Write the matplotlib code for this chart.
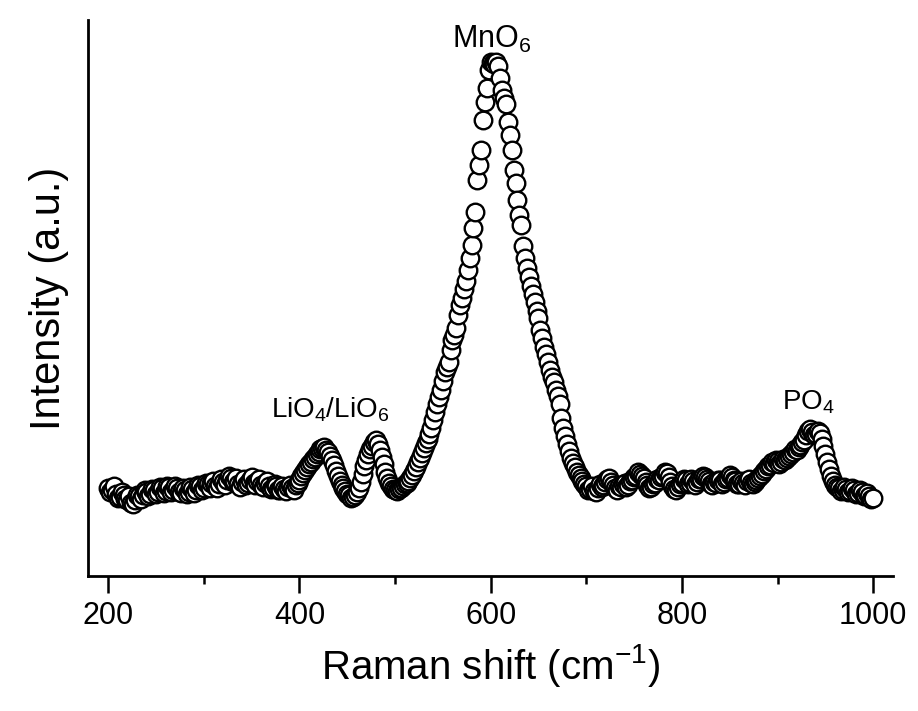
import matplotlib
matplotlib.use("Agg")
import matplotlib.pyplot as plt
from matplotlib.ticker import MultipleLocator

plt.rcParams['font.family'] = ['Liberation Sans', 'DejaVu Sans']
plt.rcParams['mathtext.default'] = 'regular'

# Raman shift (cm-1) sampling points
shift = [
    200, 202, 204, 206, 208, 210, 212, 214, 216, 218, 220, 222, 224, 226, 228, 230, 232, 234, 236, 238,
    240, 242, 244, 246, 248, 250, 252, 254, 256, 258, 260, 262, 264, 266, 268, 270, 272, 274, 276, 278,
    280, 282, 284, 286, 288, 290, 292, 294, 296, 298, 300, 302, 304, 306, 308, 310, 312, 314, 316, 318,
    320, 322, 324, 326, 328, 330, 332, 334, 336, 338, 340, 342, 344, 346, 348, 350, 352, 354, 356, 358,
    360, 362, 364, 366, 368, 370, 372, 374, 376, 378, 380, 382, 384, 386, 388, 390, 392, 394, 396, 398,
    400, 402, 404, 406, 408, 410, 412, 414, 416, 418, 420, 422, 424, 426, 428, 430, 432, 434, 436, 438,
    440, 442, 444, 446, 448, 450, 452, 454, 456, 458, 460, 462, 464, 466, 468, 470, 472, 474, 476, 478,
    480, 482, 484, 486, 488, 490, 492, 494, 496, 498, 500, 502, 504, 506, 508, 510, 512, 514, 516, 518,
    520, 522, 524, 526, 528, 530, 532, 534, 536, 538, 540, 542, 544, 546, 548, 550, 552, 554, 556, 558,
    560, 562, 564, 566, 568, 570, 572, 574, 576, 578, 580, 582, 584, 586, 588, 590, 592, 594, 596, 598,
    600, 602, 604, 606, 608, 610, 612, 614, 616, 618, 620, 622, 624, 626, 628, 630, 632, 634, 636, 638,
    640, 642, 644, 646, 648, 650, 652, 654, 656, 658, 660, 662, 664, 666, 668, 670, 672, 674, 676, 678,
    680, 682, 684, 686, 688, 690, 692, 694, 696, 698, 700, 702, 704, 706, 708, 710, 712, 714, 716, 718,
    720, 722, 724, 726, 728, 730, 732, 734, 736, 738, 740, 742, 744, 746, 748, 750, 752, 754, 756, 758,
    760, 762, 764, 766, 768, 770, 772, 774, 776, 778, 780, 782, 784, 786, 788, 790, 792, 794, 796, 798,
    800, 802, 804, 806, 808, 810, 812, 814, 816, 818, 820, 822, 824, 826, 828, 830, 832, 834, 836, 838,
    840, 842, 844, 846, 848, 850, 852, 854, 856, 858, 860, 862, 864, 866, 868, 870, 872, 874, 876, 878,
    880, 882, 884, 886, 888, 890, 892, 894, 896, 898, 900, 902, 904, 906, 908, 910, 912, 914, 916, 918,
    920, 922, 924, 926, 928, 930, 932, 934, 936, 938, 940, 942, 944, 946, 948, 950, 952, 954, 956, 958,
    960, 962, 964, 966, 968, 970, 972, 974, 976, 978, 980, 982, 984, 986, 988, 990, 992, 994, 996, 998,
    1000,
]

# Intensity (a.u.)
intensity = [
    88, 84, 86, 90, 82, 78, 79, 84, 81, 77, 76, 80, 73, 72, 76, 81, 80, 77, 81, 86,
    84, 80, 82, 87, 86, 82, 84, 89, 88, 83, 85, 90, 89, 84, 86, 90, 88, 84, 83, 88,
    86, 82, 84, 89, 87, 83, 86, 91, 90, 86, 88, 93, 92, 88, 93, 95, 90, 88, 92, 97,
    94, 91, 96, 100, 98, 94, 95, 98, 92, 89, 94, 97, 91, 93, 96, 99, 93, 91, 95, 97,
    91, 89, 93, 95, 90, 87, 88, 92, 90, 86, 86, 90, 87, 85, 89, 91, 88, 86, 91, 93,
    96, 100, 103, 106, 109, 112, 114, 117, 119, 122, 124, 127, 128, 129, 126, 124, 120, 116, 111, 105,
    100, 95, 91, 88, 85, 82, 81, 78, 79, 81, 84, 88, 94, 102, 110, 116, 122, 127, 130, 134,
    136, 132, 126, 119, 112, 104, 98, 93, 90, 87, 86, 85, 87, 88, 90, 92, 93, 95, 98, 101,
    105, 109, 114, 118, 123, 128, 133, 137, 142, 148, 156, 164, 172, 179, 186, 195, 204, 209, 214, 226,
    236, 241, 248, 261, 271, 278, 287, 295, 306, 318, 331, 348, 364, 396, 411, 426, 456, 474, 488, 506,
    514, 513, 512, 514, 510, 498, 486, 478, 472, 454, 441, 426, 406, 393, 376, 361, 351, 330, 318, 308,
    299, 290, 282, 274, 265, 258, 246, 238, 229, 222, 214, 206, 199, 194, 186, 180, 172, 158, 148, 140,
    132, 125, 118, 113, 109, 104, 101, 98, 95, 92, 90, 86, 87, 90, 85, 84, 88, 92, 89, 91,
    94, 97, 98, 94, 91, 88, 86, 90, 89, 92, 93, 89, 91, 95, 96, 99, 100, 104, 102, 100,
    98, 94, 91, 88, 89, 92, 93, 97, 96, 99, 100, 104, 103, 99, 94, 90, 87, 86, 89, 92,
    93, 97, 96, 92, 93, 97, 95, 91, 94, 97, 97, 100, 99, 97, 95, 92, 91, 94, 93, 96,
    96, 92, 94, 97, 98, 101, 99, 96, 95, 92, 92, 95, 93, 91, 95, 97, 93, 92, 94, 96,
    98, 100, 102, 105, 107, 110, 111, 114, 113, 116, 115, 112, 114, 117, 116, 118, 120, 122, 124, 127,
    126, 129, 131, 134, 136, 141, 145, 147, 144, 141, 142, 145, 143, 137, 130, 122, 114, 107, 100, 95,
    91, 89, 88, 85, 86, 89, 87, 84, 85, 88, 86, 82, 83, 86, 84, 80, 81, 83, 80, 77,
    78,
]

band_labels = [r'MnO$_6$', r'LiO$_4$/LiO$_6$', r'PO$_4$']
band_pos = [601, 432, 932]
band_height = [536, 166, 174]
band_size = [22, 20, 20]

fig = plt.figure(figsize=(9.18, 7.11), dpi=100)
ax = fig.add_axes([0.096, 0.19, 0.877, 0.782])

ax.scatter(shift, intensity, s=160, facecolors='white', edgecolors='black',
           linewidths=1.7, zorder=3)

for lab, xp, yp, fs in zip(band_labels, band_pos, band_height, band_size):
    ax.text(xp, yp, lab, ha='center', va='center', fontsize=fs)

ax.set_xlim(179, 1021)
ax.set_ylim(0, 556)
ax.xaxis.set_major_locator(MultipleLocator(200))
ax.xaxis.set_minor_locator(MultipleLocator(100))
ax.set_yticks([])
ax.spines['top'].set_visible(False)
ax.spines['right'].set_visible(False)
ax.spines['left'].set_linewidth(2)
ax.spines['bottom'].set_linewidth(2)
ax.tick_params(axis='x', which='major', length=12, width=1.8, labelsize=22, pad=6)
ax.tick_params(axis='x', which='minor', length=6, width=1.8)
ax.set_xlabel(r'Raman shift (cm$^{-1}$)', fontsize=29, labelpad=8)
ax.set_ylabel('Intensity (a.u.)', fontsize=30, labelpad=14)

fig.savefig('out.png', dpi=100)
